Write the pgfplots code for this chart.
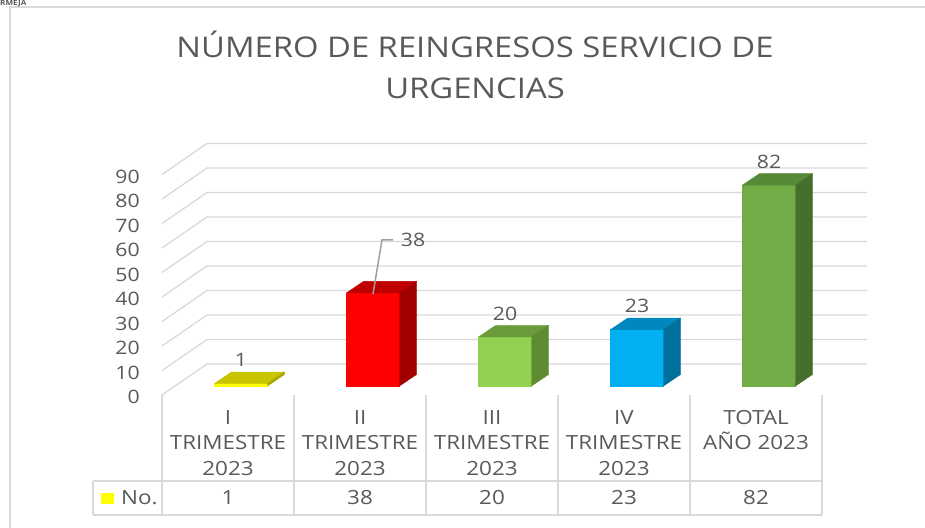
\documentclass[border=0pt]{standalone}
\usepackage{pgfplots}
\pgfplotsset{compat=1.18}
\usepackage{fontspec}
\setmainfont{Open Sans}[FakeStretch=1.15]

\definecolor{gridc}{HTML}{D9D9D9}
\definecolor{txt}{HTML}{595959}
\definecolor{yfront}{HTML}{FFFF00}
\definecolor{ytop}{HTML}{C8C400}
\definecolor{yside}{HTML}{A8A400}
\definecolor{rfront}{HTML}{FF0000}
\definecolor{rtop}{HTML}{C00000}
\definecolor{rside}{HTML}{A00000}
\definecolor{lgfront}{HTML}{92D050}
\definecolor{lgtop}{HTML}{6A9A3A}
\definecolor{lgside}{HTML}{5E8C31}
\definecolor{bfront}{HTML}{00B0F0}
\definecolor{btop}{HTML}{0088BE}
\definecolor{bside}{HTML}{00709C}
\definecolor{gfront}{HTML}{70AD47}
\definecolor{gtop}{HTML}{578A37}
\definecolor{gside}{HTML}{466E2C}

\pgfdeclareplotmark{blank}{}

% one 3D column per point: front face, top, side, value label
\pgfplotsset{
  cube/.style n args={4}{
    scatter, only marks, mark=blank,
    visualization depends on={rawy \as \val},
    scatter/@pre marker code/.code={
      \pgfmathsetlengthmacro\hh{2.45pt*\val}
      \fill[#1] (-26.5pt,0pt) rectangle (26.5pt,-\hh);
      \fill[#2] (-26.5pt,0pt) -- ++(17pt,11.5pt) -- ++(53pt,0pt) -- ++(-17pt,-11.5pt) -- cycle;
      \fill[#3] (26.5pt,0pt) -- ++(17pt,11.5pt) -- ++(0pt,-\hh) -- ++(-17pt,-11.5pt) -- cycle;
      \node[font=\fontsize{18.5}{20}\selectfont, text=txt, inner sep=0pt] at (#4) {\pgfmathprintnumber{\val}};
    },
    scatter/@post marker code/.code={},
  },
}

\begin{document}
\begin{tikzpicture}
\path[use as bounding box] (0,0) rectangle (925pt,527pt);

\begin{axis}[
  at={(175pt,141pt)}, anchor=south west,
  x=132pt, y=2.45pt,
  xmin=-0.5, xmax=4.5, ymin=0, ymax=90,
  axis line style={draw=none},
  major tick length=0pt,
  xtick=\empty,
  ytick={0,10,...,90},
  yticklabel style={font=\fontsize{18.5}{20}\selectfont, text=txt, inner sep=0pt,
    anchor=east, xshift=-35pt, yshift=-11pt},
  /pgf/number format/assume math mode=true,
  clip=false,
]
\pgfplotsinvokeforeach{0,10,...,90}{
  \draw[gridc, line width=1.3pt]
    ([xshift=-13pt,yshift=-9pt]axis cs:-0.5,#1) --
    ([xshift=32pt,yshift=22pt]axis cs:-0.5,#1) --
    ([xshift=32pt,yshift=22pt]axis cs:4.5,#1);
}
\addplot[cube={yfront}{ytop}{yside}{0pt,23.5pt}] coordinates {(0,1)};
\addplot[cube={rfront}{rtop}{rside}{40pt,53pt},
  scatter/@pre marker code/.append code={
    \draw[black!38, line width=1.5pt] (0pt,-1pt) -- (9pt,53pt) -- (20pt,53pt);
  }] coordinates {(1,38)};
\addplot[cube={lgfront}{lgtop}{lgside}{0pt,23.5pt}] coordinates {(2,20)};
\addplot[cube={bfront}{btop}{bside}{0pt,23.5pt}] coordinates {(3,23)};
\addplot[cube={gfront}{gtop}{gside}{0pt,23.5pt}] coordinates {(4,82)};
\end{axis}

\begin{scope}[x=1pt, y=-1pt, shift={(0pt,527pt)}]
  % outer frame
  \draw[gridc, line width=1.5pt] (10,530) -- (10,7) -- (930,7);
  \node[anchor=base west, inner sep=0pt, text=txt, font=\fontsize{7}{8}\selectfont\bfseries] at (0,6) {RMEJA};
  % title
  \node[anchor=base, inner sep=0pt, text=txt, font=\fontsize{28.5}{32}\selectfont] at (475,58) {NÚMERO DE REINGRESOS SERVICIO DE};
  \node[anchor=base, inner sep=0pt, text=txt, font=\fontsize{28.5}{32}\selectfont] at (475,99) {URGENCIAS};
  % data table
  \foreach \k in {0,...,5} {
    \draw[gridc, line width=1.3pt] (162+132*\k,395) -- (162+132*\k,515);
  }
  \draw[gridc, line width=1.3pt] (93,481) -- (822,481);
  \draw[gridc, line width=1.3pt] (93,515) -- (822,515);
  \draw[gridc, line width=1.3pt] (93,481) -- (93,515);
  \fill[yfront] (101,493) rectangle (114,504);
  \node[anchor=west, inner sep=0pt, text=txt, font=\fontsize{19.5}{25}\selectfont] at (121,498) {No.};
  \foreach \lbl [count=\i from 0] in {{I\\TRIMESTRE\\2023},{II\\TRIMESTRE\\2023},{III\\TRIMESTRE\\2023},{IV\\TRIMESTRE\\2023},{TOTAL\\AÑO 2023}} {
    \node[anchor=north, inner sep=0pt, align=center, text=txt, font=\fontsize{19.5}{25.5}\selectfont] at (228+132*\i,410) {\lbl};
  }
  \foreach \v [count=\i from 0] in {1,38,20,23,82} {
    \node[inner sep=0pt, text=txt, font=\fontsize{19.5}{25}\selectfont] at (228+132*\i,498) {\v};
  }
\end{scope}
\end{tikzpicture}
\end{document}
